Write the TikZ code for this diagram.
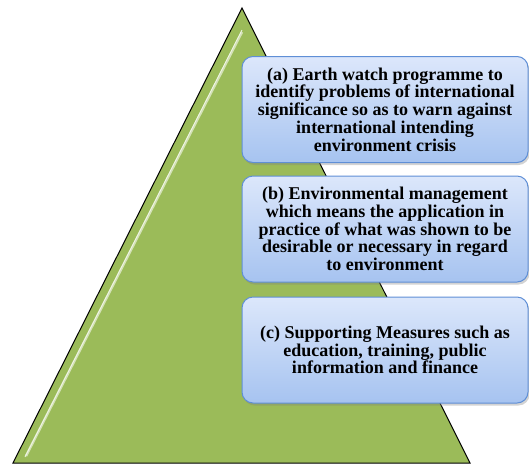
\documentclass[tikz,border=0pt]{standalone}
\usepackage{fontspec}
\setmainfont{Liberation Serif}
\usetikzlibrary{shadows}

\definecolor{pyrgreen}{HTML}{9BBB59}
\definecolor{boxtop}{HTML}{DCE7FB}
\definecolor{boxbottom}{HTML}{A6C3F0}
\definecolor{boxline}{HTML}{5F8FD6}

\begin{document}
\begin{tikzpicture}[x=1pt, y=-1pt,
    measure/.style={rounded corners=11pt, draw=boxline, line width=1pt,
      top color=boxtop, bottom color=boxbottom,
      drop shadow={shadow xshift=1.5pt, shadow yshift=-2.5pt, opacity=.35},
      minimum width=286pt, minimum height=106pt, align=center,
      font=\fontsize{18}{17.8}\selectfont\bfseries, inner sep=0pt}]
    \useasboundingbox (0,0) rectangle (529,464);

    % the pyramid
    \coordinate (apex) at (242,8);
    \coordinate (left) at (13,463);
    \coordinate (right) at (470,463);
    \filldraw[fill=pyrgreen, draw=black, line width=1pt, line join=miter] (apex) -- (right) -- (left) -- cycle;
    \draw[white!70!pyrgreen, line width=2.5pt, opacity=.8] (242,32) -- (26,456);
    \draw[white!85!pyrgreen, line width=.8pt] (242,30) -- (25,457);

    % the three measures
    \path (385,109.5) node[measure] (earthwatch) {(a) Earth watch programme to\\identify problems of international\\significance so as to warn against\\international intending\\environment crisis};
    \path (385,229) node[measure] (management) {(b) Environmental management\\which means the application in\\practice of what was shown to be\\desirable or necessary in regard\\to environment};
    \path (385,350) node[measure] (supporting) {(c) Supporting Measures such as\\education, training, public\\information and finance};
\end{tikzpicture}
\end{document}
